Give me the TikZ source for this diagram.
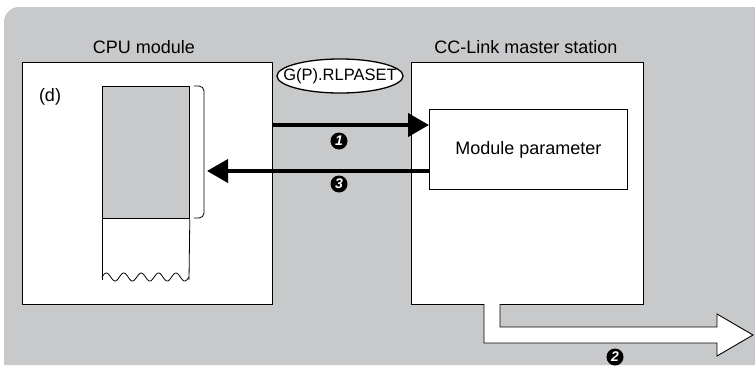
\documentclass[tikz,border=0pt]{standalone}
\usepackage{fontspec}
\setmainfont{Liberation Sans}
\usetikzlibrary{positioning,shapes.geometric,arrows.meta}
\definecolor{bggray}{RGB}{200,201,203}
\tikzset{
  unitbox/.style={draw,fill=white,line width=0.9pt,anchor=north west,inner sep=0pt},
  boxlabel/.style={font=\fontsize{18}{20}\selectfont},
  stepnum/.style={circle,fill=black,text=white,inner sep=0pt,minimum size=17pt,
    font=\fontsize{14}{14}\selectfont\bfseries\itshape},
  busarrow/.style={line width=4pt,-{Triangle[length=21pt,width=23pt]}},
}
\begin{document}
\begin{tikzpicture}[x=1pt,y=-1pt]
\useasboundingbox (0,0) rectangle (755,367);
\clip (0,0) rectangle (755,367);
\fill[bggray] (4,365) [rounded corners=15pt] -- (4,7) -- (790,7) [sharp corners] -- (790,365) -- cycle;

\node[unitbox,minimum width=250pt,minimum height=242pt] (cpu) at (22,62) {};
\node[unitbox,minimum width=232pt,minimum height=242pt] (master) at (411,62) {};
\node[boxlabel] at (144,47) {CPU module};
\node[boxlabel] at (526,47) {CC-Link master station};

\node[boxlabel] (dev) at (50,97) {(d)};
\node[draw,fill=bggray,line width=0.8pt,anchor=north west,minimum width=87pt,minimum height=132pt] (area) at (102,86) {};
\draw[line width=0.8pt] (area.south west) -- (102,280);
\draw[line width=0.8pt] (area.south east) -- (189,280);
\draw[line width=0.8pt] plot[domain=0:87,samples=100] ({102+\x},{277-4*sin(20.69*\x)});
\draw[line width=0.8pt,rounded corners=5pt] (194,86) -- (204,86) -- (204,218) -- (194,218);
\coordinate (brace) at (207,171);

\node[unitbox,minimum width=198pt,minimum height=80pt,boxlabel] (param) at (429,109) {};
\node[boxlabel] at (param.center) {Module parameter};

\fill[white] (340,76) ellipse (63 and 17);
\node[inner sep=0pt,font=\fontsize{16.5}{19}\selectfont] (instr) at (340,76) {G(P).RLPASET};
\draw[line width=1.3pt] (instr.center) ellipse (63 and 17);

\draw[busarrow] (cpu.east |- 0,125) -- (param.west |- 0,125);
\draw[busarrow] (param.west |- brace) -- (brace);
\node[stepnum] (s1) at (339,141) {1};
\node[stepnum] (s3) at (339,184) {3};

\draw[fill=white,line width=0.9pt] (484,304) -- (484,343) -- (717,343) -- (717,356) -- (753,335)
  -- (717,314) -- (717,327) -- (500,327) -- (500,304);
\node[stepnum] (s2) at (615,357) {2};
\end{tikzpicture}
\end{document}
